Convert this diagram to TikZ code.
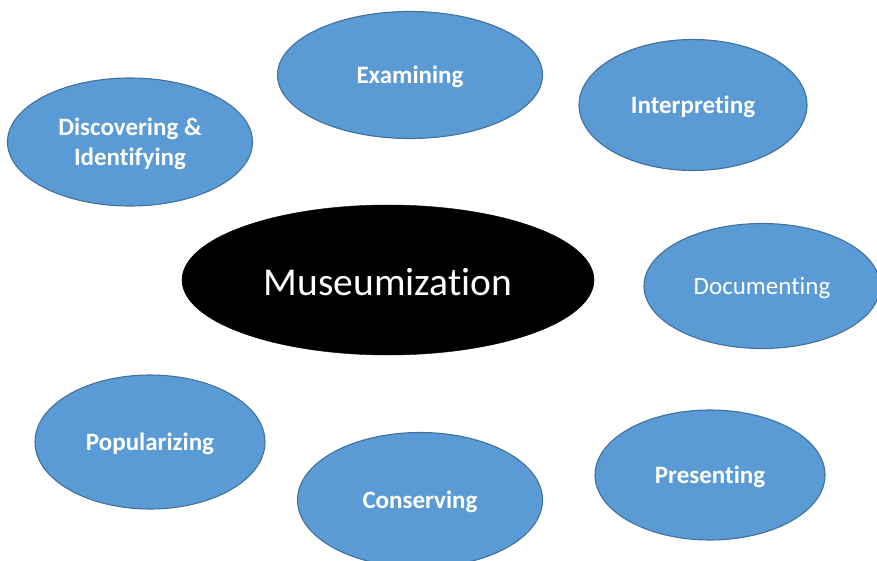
\documentclass[tikz,border=0pt]{standalone}
\usepackage{fontspec}
\setmainfont{Carlito}[Ligatures=NoCommon]
\usetikzlibrary{shapes.geometric}
\definecolor{stagefill}{HTML}{5B9BD5}
\definecolor{stageline}{HTML}{41719C}

\begin{document}
\begin{tikzpicture}[x=1pt, y=-1pt,
    stage/.style={draw=stageline, fill=stagefill, line width=1.1pt, ellipse,
        text=white, font=\bfseries\fontsize{25}{30}\selectfont, align=center,
        inner sep=0pt, text depth=0pt},
    hub/.style={draw=black, fill=black, ellipse, text=white,
        font=\fontsize{39.5}{46}\selectfont, inner sep=0pt, text depth=0pt, text height=30pt}]
    \clip (0,0) rectangle (877,561);
    % centre
    \node[hub, minimum width=412pt, minimum height=150pt] (museum) at (388,280) {Museumization};
    % stages round it
    \node[stage, minimum width=245pt, minimum height=128pt] (discover) at (130,142) {Discovering \&\\Identifying};
    \node[stage, minimum width=265pt, minimum height=127pt] (examine) at (410,75) {Examining};
    \node[stage, minimum width=228pt, minimum height=131pt] (interpret) at (693,105) {Interpreting};
    \node[stage, minimum width=236pt, minimum height=125pt, font=\fontsize{25}{30}\selectfont] (document) at (762,286) {Documenting};
    \node[stage, minimum width=230pt, minimum height=130pt] (present) at (710,475) {Presenting};
    \node[stage, minimum width=245pt, minimum height=135pt] (conserve) at (420,500) {Conserving};
    \node[stage, minimum width=230pt, minimum height=134pt] (popular) at (150,442) {Popularizing};
\end{tikzpicture}
\end{document}
